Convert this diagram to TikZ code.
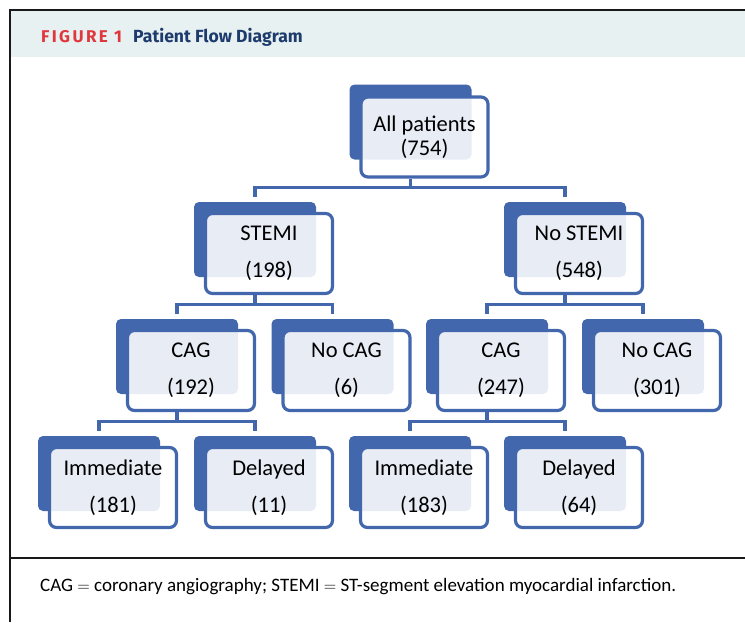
\documentclass[tikz,border=0pt]{standalone}
\usepackage{fontspec}
\setmainfont{Carlito}
\newfontfamily\headfont{Fira Sans}
\usetikzlibrary{positioning}
\definecolor{boxblue}{HTML}{4367AD}
\definecolor{headbg}{HTML}{E8F1F1}
\definecolor{figred}{HTML}{E0363D}
\definecolor{navy}{HTML}{1D3B6D}
\tikzset{
  backbox/.style={fill=boxblue,rounded corners=5pt,minimum width=122pt,minimum height=75pt,inner sep=0pt},
  frontbox/.style={draw=boxblue,line width=3.2pt,fill=white,fill opacity=0.88,text opacity=1,
    rounded corners=7pt,minimum width=127pt,minimum height=80pt,inner sep=0pt,align=center,
    font=\fontsize{22.5}{37}\selectfont},
  link/.style={draw=boxblue,line width=3.2pt},
  frameline/.style={draw=black!90,line width=1.8pt}
}
\begin{document}
\begin{tikzpicture}[x=1pt,y=-1pt]
\useasboundingbox (0,0) rectangle (745,622);
% frame and header
\fill[headbg] (11,11) rectangle (745,57);
\draw[frameline] (10,622) -- (10,10) -- (745,10);
\draw[frameline] (10,558) -- (745,558);
\node[anchor=base west,inner sep=0pt,text=figred,
  font=\headfont\bfseries\fontsize{17}{17}\selectfont\addfontfeatures{LetterSpace=14}] (figlabel) at (41,42) {FIGURE 1};
\node[anchor=base west,inner sep=0pt,text=navy,
  font=\headfont\bfseries\fontsize{17.6}{18}\selectfont] (figtitle) at (133,42) {Patient Flow Diagram};
% boxes: shadow first, then the box with the text
\node[backbox] (b-all) at (410.5,122) {};
\node[frontbox,font=\fontsize{22.5}{24}\selectfont] (all) at ([shift={(14,15)}]b-all.center) {All patients\\(754)};
\foreach \n/\x/\y/\t in {stemi/255/239.5/{STEMI\\(198)}, nostemi/565/239.5/{No STEMI\\(548)},
    cagA/177/356.5/{CAG\\(192)}, nocagA/332.5/356.5/{No CAG\\(6)},
    cagB/487/356.5/{CAG\\(247)}, nocagB/643/356.5/{No CAG\\(301)},
    immA/99/473.5/{Immediate\\(181)}, delA/255/473.5/{Delayed\\(11)},
    immB/410/473.5/{Immediate\\(183)}, delB/565/473.5/{Delayed\\(64)}}
{
  \node[backbox] (b-\n) at (\x,\y) {};
  \node[frontbox] (\n) at ([shift={(14,14)}]b-\n.center) {\t};
}
% connectors
\foreach \p/\c in {all/stemi, all/nostemi, stemi/cagA, stemi/nocagA, nostemi/cagB, nostemi/nocagB,
    cagA/immA, cagA/delA, cagB/immB, cagB/delB}
  \draw[link] (b-\p.center |- \p.south) -- ++(0,9) -| ([yshift=5pt]b-\c.north);
% legend
\node[anchor=west,inner sep=0pt,font=\fontsize{19}{21}\selectfont] (legend) at (40,587)
  {CAG $=$ coronary angiography; STEMI $=$ ST-segment elevation myocardial infarction.};
\end{tikzpicture}
\end{document}
